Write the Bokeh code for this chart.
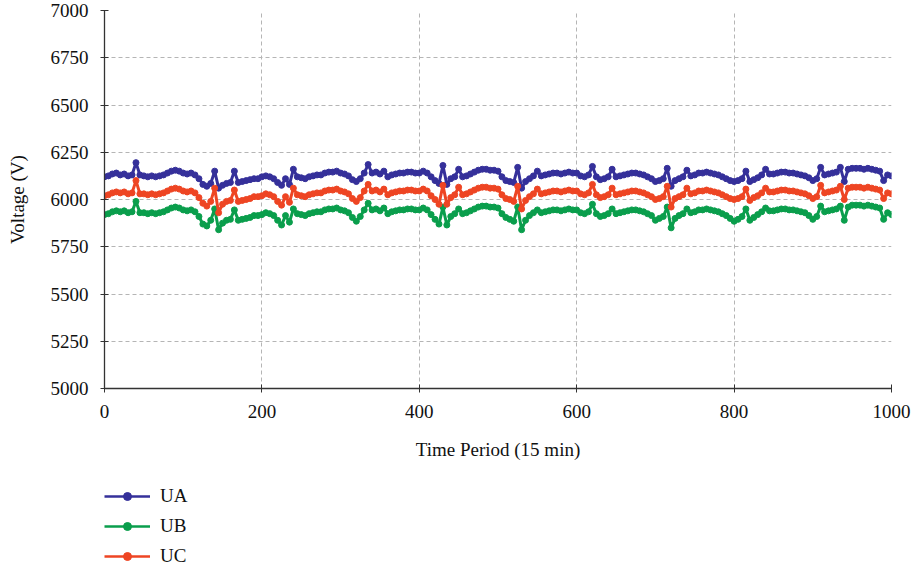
from bokeh.plotting import figure
from bokeh.models import Legend, LegendItem, FixedTicker, Range1d
from bokeh.layouts import column
from bokeh.embed import file_html
from bokeh.resources import INLINE

time = list(range(0, 1001, 5))

ua = [6120, 6125, 6135, 6140, 6130, 6135, 6125, 6130, 6195, 6130, 6125, 6120, 6125, 6120, 6125, 6130, 6140, 6150, 6155, 6150, 6140,
      6135, 6140, 6130, 6110, 6080, 6070, 6085, 6150, 6060, 6075, 6085, 6090, 6150, 6090, 6095, 6100, 6105, 6110, 6110, 6120,
      6125, 6120, 6110, 6090, 6075, 6110, 6080, 6160, 6120, 6115, 6110, 6120, 6125, 6130, 6130, 6140, 6145, 6145, 6150, 6140,
      6135, 6125, 6105, 6095, 6110, 6140, 6185, 6140, 6145, 6135, 6150, 6120, 6130, 6135, 6140, 6140, 6145, 6145, 6140, 6140,
      6150, 6140, 6120, 6100, 6085, 6180, 6080, 6110, 6120, 6160, 6120, 6125, 6135, 6145, 6155, 6160, 6160, 6155, 6155, 6150,
      6120, 6100, 6095, 6090, 6170, 6060, 6095, 6110, 6125, 6150, 6125, 6130, 6135, 6140, 6140, 6135, 6140, 6145, 6140, 6140,
      6125, 6120, 6130, 6175, 6120, 6105, 6110, 6120, 6160, 6120, 6125, 6130, 6135, 6140, 6140, 6135, 6130, 6120, 6110, 6095,
      6100, 6110, 6165, 6070, 6100, 6110, 6120, 6155, 6125, 6130, 6140, 6140, 6145, 6140, 6135, 6130, 6120, 6110, 6100, 6095,
      6100, 6110, 6150, 6095, 6105, 6115, 6130, 6160, 6135, 6135, 6140, 6145, 6145, 6140, 6140, 6135, 6130, 6125, 6115, 6100,
      6110, 6170, 6130, 6135, 6140, 6145, 6170, 6095, 6160, 6165, 6165, 6165, 6160, 6165, 6160, 6155, 6150, 6100, 6130, 6125]

uc = [6020, 6025, 6035, 6040, 6035, 6040, 6030, 6035, 6100, 6030, 6030, 6025, 6030, 6025, 6030, 6035, 6045, 6055, 6060, 6055, 6045,
      6040, 6045, 6035, 6010, 5980, 5965, 5990, 6060, 5930, 5975, 5990, 5995, 6050, 5990, 5995, 6000, 6005, 6015, 6015, 6020,
      6030, 6025, 6015, 5990, 5970, 6015, 5985, 6060, 6025, 6020, 6015, 6025, 6030, 6035, 6035, 6045, 6050, 6050, 6055, 6045,
      6040, 6030, 6005, 5990, 6010, 6045, 6080, 6045, 6050, 6040, 6055, 6025, 6035, 6040, 6045, 6045, 6050, 6050, 6045, 6045,
      6055, 6045, 6020, 6000, 5975, 6075, 5975, 6010, 6025, 6065, 6025, 6030, 6040, 6050, 6060, 6065, 6065, 6060, 6060, 6055,
      6025, 6005, 6000, 5990, 6070, 5950, 5995, 6015, 6030, 6055, 6030, 6035, 6040, 6045, 6045, 6040, 6045, 6050, 6045, 6045,
      6030, 6025, 6035, 6080, 6025, 6010, 6015, 6025, 6060, 6025, 6030, 6035, 6040, 6045, 6045, 6040, 6035, 6025, 6015, 6000,
      6005, 6015, 6070, 5960, 6005, 6015, 6025, 6060, 6030, 6035, 6045, 6045, 6050, 6045, 6040, 6035, 6025, 6015, 6005, 6000,
      6005, 6015, 6055, 5995, 6010, 6020, 6035, 6060, 6040, 6040, 6045, 6050, 6050, 6045, 6045, 6040, 6035, 6030, 6020, 6005,
      6015, 6075, 6035, 6040, 6045, 6050, 6070, 6000, 6060, 6065, 6065, 6065, 6060, 6065, 6060, 6055, 6050, 6005, 6035, 6030]

ub = [5920, 5925, 5935, 5940, 5935, 5940, 5930, 5935, 5990, 5930, 5930, 5925, 5930, 5925, 5930, 5935, 5945, 5955, 5960, 5955, 5945,
      5940, 5945, 5935, 5910, 5870, 5860, 5890, 5950, 5840, 5875, 5890, 5895, 5945, 5890, 5895, 5900, 5905, 5915, 5915, 5920,
      5930, 5925, 5915, 5890, 5865, 5915, 5880, 5950, 5925, 5920, 5915, 5925, 5930, 5935, 5935, 5945, 5950, 5950, 5955, 5945,
      5940, 5930, 5905, 5885, 5910, 5945, 5980, 5945, 5950, 5940, 5955, 5925, 5935, 5940, 5945, 5945, 5950, 5950, 5945, 5945,
      5955, 5945, 5920, 5895, 5870, 5960, 5865, 5910, 5925, 5950, 5925, 5930, 5940, 5950, 5960, 5965, 5965, 5960, 5960, 5955,
      5925, 5905, 5895, 5885, 5960, 5840, 5890, 5915, 5930, 5945, 5930, 5935, 5940, 5945, 5945, 5940, 5945, 5950, 5945, 5945,
      5930, 5925, 5935, 5975, 5925, 5910, 5915, 5925, 5950, 5925, 5930, 5935, 5940, 5945, 5945, 5940, 5935, 5925, 5915, 5890,
      5900, 5910, 5960, 5850, 5900, 5915, 5925, 5950, 5930, 5935, 5945, 5945, 5950, 5945, 5940, 5935, 5925, 5915, 5900, 5885,
      5895, 5910, 5950, 5890, 5905, 5920, 5935, 5955, 5940, 5940, 5945, 5950, 5950, 5945, 5945, 5940, 5935, 5930, 5915, 5895,
      5910, 5965, 5935, 5940, 5945, 5950, 5965, 5890, 5960, 5970, 5970, 5970, 5965, 5970, 5965, 5960, 5955, 5895, 5930, 5920]

x_ticks = [0, 200, 400, 600, 800, 1000]
y_ticks = [5000, 5250, 5500, 5750, 6000, 6250, 6500, 6750, 7000]
series_names = ["UA", "UB", "UC"]
series_colors = ["#35309a", "#0a9e4c", "#ee4523"]

FONT = "Liberation Serif"

p = figure(width=913, height=462, output_backend="svg", toolbar_location=None,
           x_range=Range1d(0, 1000), y_range=Range1d(5000, 7000),
           min_border_left=104, min_border_right=22, min_border_top=10, min_border_bottom=72)
p.outline_line_color = None

for vals, col in zip([ua, ub, uc], series_colors):
    p.line(time, vals, line_color=col, line_width=3)
    p.scatter(time, vals, size=6, fill_color=col, line_color=col, marker="circle")

for ax in (p.xaxis[0], p.yaxis[0]):
    ax.axis_line_color = "#333333"
    ax.axis_line_width = 1.3
    ax.major_tick_line_color = "#333333"
    ax.major_tick_in = 4
    ax.major_tick_out = 4
    ax.minor_tick_line_color = None
    ax.major_label_text_font = FONT
    ax.major_label_text_font_size = "19px"
    ax.major_label_text_color = "#111111"
    ax.axis_label_text_font = FONT
    ax.axis_label_text_font_size = "19px"
    ax.axis_label_text_font_style = "normal"
    ax.axis_label_text_color = "#111111"

p.xaxis.ticker = FixedTicker(ticks=x_ticks)
p.yaxis.ticker = FixedTicker(ticks=y_ticks)
p.xaxis.axis_label = "Time Period (15 min)"
p.yaxis.axis_label = "Voltage (V)"
p.xaxis.major_label_standoff = 12
p.yaxis.major_label_standoff = 12
p.xaxis.axis_label_standoff = 18
p.yaxis.axis_label_standoff = 20

p.grid.grid_line_color = "#b5b5b5"
p.grid.grid_line_dash = "4 3"
p.grid.grid_line_width = 1
p.xgrid.ticker = FixedTicker(ticks=x_ticks)
p.ygrid.ticker = FixedTicker(ticks=y_ticks)

# legend-only figure below the chart; its glyphs use the series data but
# fall outside this figure's ranges, so only the legend entries show
lg = figure(width=913, height=108, output_backend="svg", toolbar_location=None,
            x_range=Range1d(0, 1), y_range=Range1d(0, 1),
            min_border_left=104, min_border_right=22, min_border_top=23, min_border_bottom=0)
lg.outline_line_color = None
lg.axis.visible = False
lg.grid.visible = False
items = []
for name, vals, col in zip(series_names, [ua, ub, uc], series_colors):
    r1 = lg.line(time, vals, line_color=col, line_width=2.5)
    r2 = lg.scatter(time, vals, size=5, fill_color=col, line_color=col, marker="circle")
    items.append(LegendItem(label=name, renderers=[r1, r2]))
legend = Legend(items=items, orientation="vertical", location="top_left",
                label_text_font=FONT, label_text_font_size="19px", label_text_color="#111111",
                glyph_width=46, glyph_height=20, label_height=20, spacing=8,
                padding=0, margin=0, border_line_color=None, background_fill_alpha=0,
                label_standoff=10)
lg.add_layout(legend)

layout = column(p, lg, spacing=0)
open("out.html", "w").write(file_html(layout, INLINE))
